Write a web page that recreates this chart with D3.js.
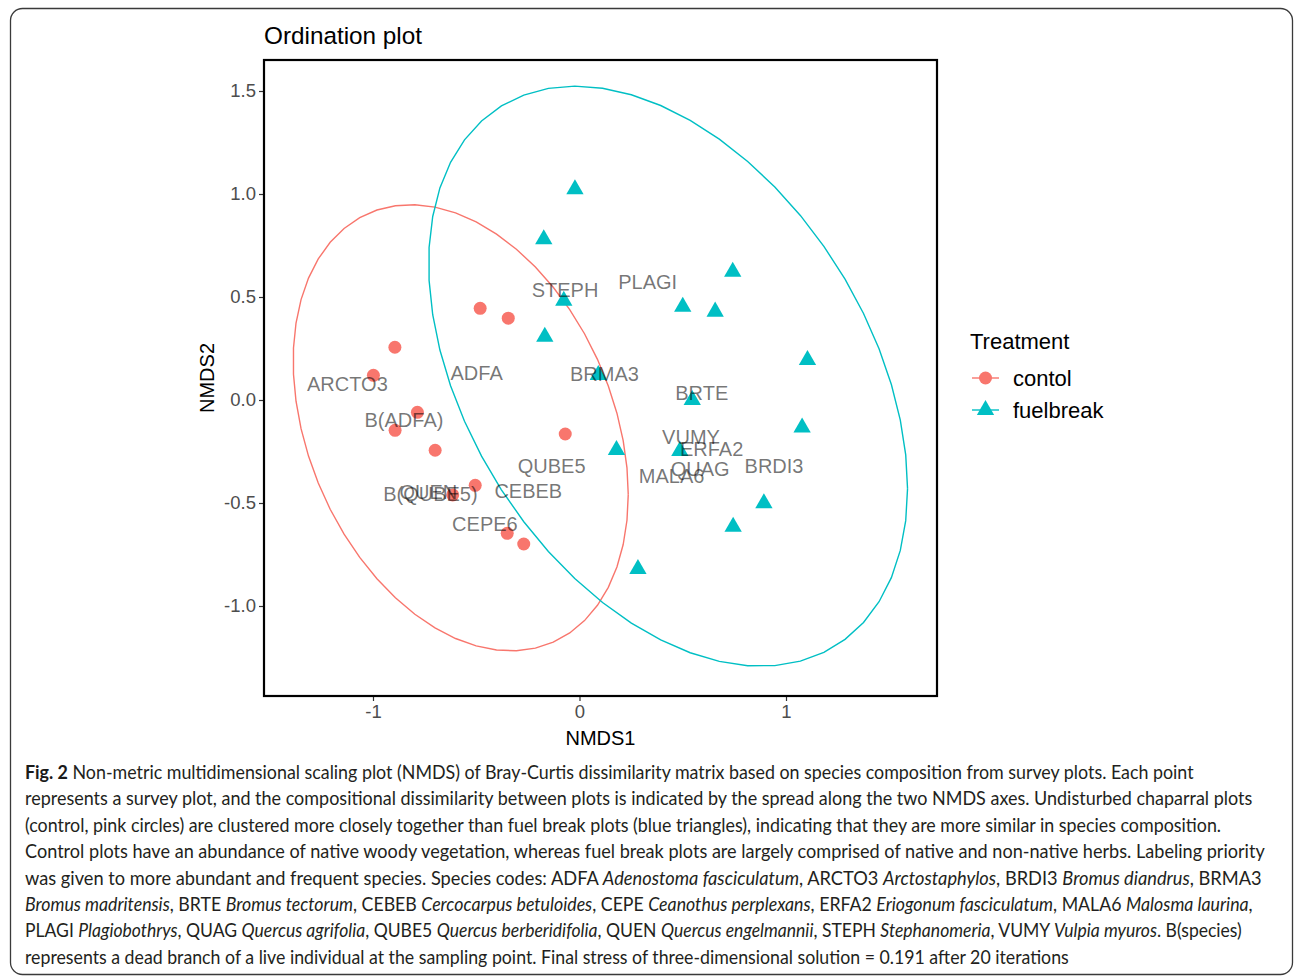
<!DOCTYPE html>
<html>
<head>
<meta charset="utf-8">
<script src="https://cdn.jsdelivr.net/npm/d3@7"></script>
<style>
  html, body { margin: 0; padding: 0; background: #fff; }
  svg { display: block; }
</style>
</head>
<body>
<svg id="chart" width="1295" height="977"></svg>
<script>
// ---------------- DATA ----------------
const groups = ["contol", "fuelbreak"];
const groupColors = ["#F8766D", "#00BFC4"];

const controlX = [-0.481, -0.345, -0.894, -0.998, -0.785, -0.893, -0.699, -0.069, -0.505, -0.614, -0.350, -0.270];
const controlY = [ 0.445,  0.397,  0.256,  0.120, -0.060, -0.147, -0.244, -0.165, -0.414, -0.461, -0.647, -0.699];

const fuelX = [-0.022, -0.173, 0.742, -0.076, 0.500, 0.657, -0.168, 1.104, 0.091, 0.546, 1.078, 0.179, 0.486, 0.893, 0.744, 0.283];
const fuelY = [ 1.023,  0.780, 0.623,  0.482, 0.453, 0.429,  0.307, 0.194, 0.121, 0.000, -0.134, -0.243, -0.248, -0.501, -0.615, -0.820];

const speciesNames = ["STEPH", "PLAGI", "ARCTO3", "ADFA", "BRMA3", "B(ADFA)", "QUBE5", "B(QUBE5)", "QUEN", "CEBEB", "CEPE6", "BRTE", "VUMY", "ERFA2", "QUAG", "MALA6", "BRDI3"];
const speciesX = [-0.070, 0.330, -1.124, -0.498, 0.121, -0.850, -0.135, -0.722, -0.732, -0.248, -0.458, 0.592, 0.540, 0.640, 0.584, 0.446, 0.942];
const speciesY = [ 0.534, 0.574,  0.081,  0.133, 0.125, -0.096, -0.319, -0.456, -0.447, -0.440, -0.602, 0.035, -0.178, -0.239, -0.336, -0.369, -0.317];

const xTicks = [-1, 0, 1];
const xTickLabels = ["-1", "0", "1"];
const yTicks = [-1.0, -0.5, 0.0, 0.5, 1.0, 1.5];
const yTickLabels = ["-1.0", "-0.5", "0.0", "0.5", "1.0", "1.5"];
const xDomain = [-1.5278, 1.7312];
const yDomain = [-1.4369, 1.6505];

const titleText = "Ordination plot";
const xTitle = "NMDS1";
const yTitle = "NMDS2";
const legendTitle = "Treatment";

// caption lines: [text, style] segments  (b = bold, i = italic, n = normal)
const captionLines = [
  [["Fig. 2", "b"], [" Non-metric multidimensional scaling plot (NMDS) of Bray-Curtis dissimilarity matrix based on species composition from survey plots. Each point", "n"]],
  [["represents a survey plot, and the compositional dissimilarity between plots is indicated by the spread along the two NMDS axes. Undisturbed chaparral plots", "n"]],
  [["(control, pink circles) are clustered more closely together than fuel break plots (blue triangles), indicating that they are more similar in species composition.", "n"]],
  [["Control plots have an abundance of native woody vegetation, whereas fuel break plots are largely comprised of native and non-native herbs. Labeling priority", "n"]],
  [["was given to more abundant and frequent species. Species codes: ADFA ", "n"], ["Adenostoma fasciculatum", "i"], [", ARCTO3 ", "n"], ["Arctostaphylos", "i"], [", BRDI3 ", "n"], ["Bromus diandrus", "i"], [", BRMA3", "n"]],
  [["Bromus madritensis", "i"], [", BRTE ", "n"], ["Bromus tectorum", "i"], [", CEBEB ", "n"], ["Cercocarpus betuloides", "i"], [", CEPE ", "n"], ["Ceanothus perplexans", "i"], [", ERFA2 ", "n"], ["Eriogonum fasciculatum", "i"], [", MALA6 ", "n"], ["Malosma laurina", "i"], [",", "n"]],
  [["PLAGI ", "n"], ["Plagiobothrys", "i"], [", QUAG ", "n"], ["Quercus agrifolia", "i"], [", QUBE5 ", "n"], ["Quercus berberidifolia", "i"], [", QUEN ", "n"], ["Quercus engelmannii", "i"], [", STEPH ", "n"], ["Stephanomeria", "i"], [", VUMY ", "n"], ["Vulpia myuros", "i"], [". B(species)", "n"]],
  [["represents a dead branch of a live individual at the sampling point. Final stress of three-dimensional solution = 0.191 after 20 iterations", "n"]]
];
const captionEnds = [1195, 1253, 1222, 1265, 1263, 1254, 1243, 1070];

// ---------------- DRAW ----------------
const svg = d3.select("#chart");
const panel = {left: 264, right: 937, top: 60, bottom: 696};

// outer rounded frame
svg.append("rect")
  .attr("x", 10.5).attr("y", 8.5).attr("width", 1282).attr("height", 966)
  .attr("rx", 12).attr("ry", 12)
  .attr("fill", "#fff").attr("stroke", "#3a3a3a").attr("stroke-width", 1.3);

const x = d3.scaleLinear().domain(xDomain).range([panel.left, panel.right]);
const y = d3.scaleLinear().domain(yDomain).range([panel.bottom, panel.top]);

const fontSans = "'Liberation Sans', Arial, sans-serif";

// title
svg.append("text").attr("x", panel.left).attr("y", 44)
  .attr("font-family", fontSans).attr("font-size", 24.3).attr("fill", "#000")
  .text(titleText);

// axes
const xAxis = d3.axisBottom(x).tickValues(xTicks).tickFormat((d, i) => xTickLabels[i]).tickSize(5).tickPadding(4);
const yAxis = d3.axisLeft(y).tickValues(yTicks).tickFormat((d, i) => yTickLabels[i]).tickSize(5).tickPadding(3);

const gx = svg.append("g").attr("transform", `translate(0,${panel.bottom})`).call(xAxis);
const gy = svg.append("g").attr("transform", `translate(${panel.left},0)`).call(yAxis);
[gx, gy].forEach(g => {
  g.select(".domain").remove();
  g.selectAll(".tick line").attr("stroke", "#333").attr("stroke-width", 1.2);
  g.selectAll(".tick text").attr("font-family", fontSans).attr("font-size", 18.5).attr("fill", "#4d4d4d");
});

// ellipses computed from data (normal data ellipse, 95% level)
function qf2(p, d) { return (d / 2) * (Math.pow(1 - p, -2 / d) - 1); }
function ellipsePoints(xs, ys) {
  const n = xs.length;
  const mx = d3.mean(xs), my = d3.mean(ys);
  let sxx = 0, syy = 0, sxy = 0;
  for (let i = 0; i < n; i++) {
    sxx += (xs[i] - mx) ** 2; syy += (ys[i] - my) ** 2; sxy += (xs[i] - mx) * (ys[i] - my);
  }
  sxx /= (n - 1); syy /= (n - 1); sxy /= (n - 1);
  const a = Math.sqrt(sxx), b = sxy / a, c = Math.sqrt(syy - b * b);
  const r = Math.sqrt(2 * qf2(0.95, n - 1));
  const pts = [];
  const seg = 51;
  for (let i = 0; i <= seg; i++) {
    const t = 2 * Math.PI * i / seg;
    const u = Math.cos(t), v = Math.sin(t);
    pts.push([mx + r * a * u, my + r * (b * u + c * v)]);
  }
  return pts;
}
const line = d3.line().x(d => x(d[0])).y(d => y(d[1]));
const series = [[controlX, controlY], [fuelX, fuelY]];
series.forEach((s, gi) => {
  svg.append("path").attr("d", line(ellipsePoints(s[0], s[1])))
    .attr("fill", "none").attr("stroke", groupColors[gi]).attr("stroke-width", 1.4);
});

// points
svg.append("g").selectAll("circle").data(controlX).join("circle")
  .attr("cx", d => x(d)).attr("cy", (d, i) => y(controlY[i])).attr("r", 6.5)
  .attr("fill", groupColors[0]);
const tri = d3.symbol().type(d3.symbolTriangle).size(130);
svg.append("g").selectAll("path").data(fuelX).join("path")
  .attr("d", tri)
  .attr("transform", (d, i) => `translate(${x(d)},${y(fuelY[i])})`)
  .attr("fill", groupColors[1]);

// species labels
svg.append("g").selectAll("text").data(speciesNames).join("text")
  .attr("x", (d, i) => x(speciesX[i])).attr("y", (d, i) => y(speciesY[i]))
  .attr("dy", "0.36em").attr("text-anchor", "middle")
  .attr("font-family", fontSans).attr("font-size", 20)
  .attr("fill", "#000").attr("fill-opacity", 0.55)
  .text(d => d);

// panel border
svg.append("rect").attr("x", panel.left).attr("y", panel.top)
  .attr("width", panel.right - panel.left).attr("height", panel.bottom - panel.top)
  .attr("fill", "none").attr("stroke", "#000").attr("stroke-width", 2.2);

// axis titles
svg.append("text").attr("x", (panel.left + panel.right) / 2).attr("y", 745)
  .attr("text-anchor", "middle").attr("font-family", fontSans).attr("font-size", 20).attr("fill", "#000")
  .text(xTitle);
svg.append("text").attr("transform", `translate(214,${(panel.top + panel.bottom) / 2}) rotate(-90)`)
  .attr("text-anchor", "middle").attr("font-family", fontSans).attr("font-size", 20).attr("fill", "#000")
  .text(yTitle);

// legend
const lg = svg.append("g");
lg.append("text").attr("x", 970).attr("y", 349).attr("font-family", fontSans).attr("font-size", 22).attr("fill", "#000").text(legendTitle);
const legendY = [378, 410];
groups.forEach((g, i) => {
  lg.append("line").attr("x1", 972).attr("x2", 999).attr("y1", legendY[i]).attr("y2", legendY[i])
    .attr("stroke", groupColors[i]).attr("stroke-width", 1.4);
  if (i === 0) {
    lg.append("circle").attr("cx", 985.5).attr("cy", legendY[i]).attr("r", 6.5).attr("fill", groupColors[i]);
  } else {
    lg.append("path").attr("d", tri).attr("transform", `translate(985.5,${legendY[i]})`).attr("fill", groupColors[i]);
  }
  lg.append("text").attr("x", 1013).attr("y", legendY[i]).attr("dy", "0.36em")
    .attr("font-family", fontSans).attr("font-size", 22).attr("fill", "#000").text(g);
});

// caption
const capFont = "Lato, 'Open Sans', sans-serif";
const capStart = 25;
captionLines.forEach((segs, li) => {
  const baseY = 779 + li * 26.4;
  const g = svg.append("g");
  const t = g.append("text").attr("x", 0).attr("y", 0)
    .attr("font-family", capFont).attr("font-size", 18.5).attr("fill", "#231f20");
  segs.forEach(([txt, st]) => {
    const ts = t.append("tspan").text(txt);
    if (st === "b") ts.attr("font-weight", "bold").attr("fill", "#1a1a1a");
    if (st === "i") ts.attr("font-style", "italic");
  });
  const w = t.node().getComputedTextLength();
  const sx = (captionEnds[li] - capStart) / w;
  g.attr("transform", `translate(${capStart},${baseY}) scale(${sx},1)`);
});
</script>
</body>
</html>
